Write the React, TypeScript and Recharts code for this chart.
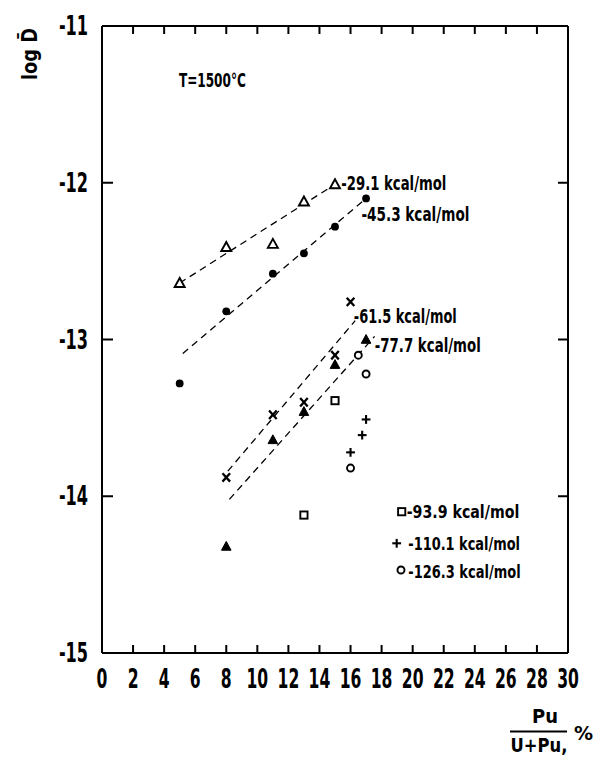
import React from 'react';
import { ScatterChart, Scatter, XAxis, YAxis, ReferenceLine, ReferenceDot, CartesianGrid } from 'recharts';

const FONT = "'DejaVu Sans', 'Liberation Sans', sans-serif";

// ---- axes ----
const xTicks = [0, 2, 4, 6, 8, 10, 12, 14, 16, 18, 20, 22, 24, 26, 28, 30];
const yTicks = [-15, -14, -13, -12, -11];
const xDomain = [0, 30];
const yDomain = [-15, -11];

// ---- series (x = Pu/(U+Pu) %, y = log D) ----
const openTriangle = [
  { x: 5, y: -12.64 }, { x: 8, y: -12.41 }, { x: 11, y: -12.39 }, { x: 13, y: -12.12 }, { x: 15, y: -12.01 },
];
const filledCircle = [
  { x: 5, y: -13.28 }, { x: 8, y: -12.82 }, { x: 11, y: -12.58 }, { x: 13, y: -12.45 }, { x: 15, y: -12.28 }, { x: 17, y: -12.1 },
];
const cross = [
  { x: 8, y: -13.88 }, { x: 11, y: -13.48 }, { x: 13, y: -13.4 }, { x: 15, y: -13.1 }, { x: 16, y: -12.76 },
];
const filledTriangle = [
  { x: 8, y: -14.32 }, { x: 11, y: -13.64 }, { x: 13, y: -13.46 }, { x: 15, y: -13.16 }, { x: 17, y: -13.0 },
];
const openSquare = [{ x: 13, y: -14.12 }, { x: 15, y: -13.39 }];
const plus = [{ x: 16, y: -13.72 }, { x: 16.75, y: -13.61 }, { x: 17, y: -13.51 }];
const openCircle = [{ x: 16, y: -13.82 }, { x: 16.5, y: -13.1 }, { x: 17, y: -13.22 }];

// ---- dashed fit lines (endpoints) ----
const fitOpenTriangle = [{ x: 5, y: -12.64 }, { x: 15, y: -12.01 }];
const fitFilledCircle = [{ x: 5.2, y: -13.09 }, { x: 17, y: -12.1 }];
const fitCross = [{ x: 8.1, y: -13.84 }, { x: 16.3, y: -12.88 }];
const fitFilledTriangle = [{ x: 8.2, y: -14.02 }, { x: 17.55, y: -12.98 }];

// ---- annotation texts ----
const lineLabels = ['-29.1 kcal/mol', '-45.3 kcal/mol', '-61.5 kcal/mol', '-77.7 kcal/mol'];
const lineLabelAnchors = [
  { x: 15.41, y: -12.046 }, { x: 16.7, y: -12.242 }, { x: 16.21, y: -12.897 }, { x: 17.56, y: -13.078 },
];
const lineLabelWidths = [105, 108, 103, 106];
const tempLabel = 'T=1500°C';
const legendLabels = ['-93.9 kcal/mol', '-110.1 kcal/mol', '-126.3 kcal/mol'];
const legendAnchor = { x: 18.54, y: -13.992 };

// ---- marker shapes ----
const S = '#000';
const OpenTri = (p: any) => (
  <polygon points={`${p.cx},${p.cy - 5} ${p.cx - 5},${p.cy + 4} ${p.cx + 5},${p.cy + 4}`} fill="#fff" stroke={S} strokeWidth={1.9} />
);
const FillTri = (p: any) => (
  <polygon points={`${p.cx},${p.cy - 5} ${p.cx - 4.8},${p.cy + 3.8} ${p.cx + 4.8},${p.cy + 3.8}`} fill={S} stroke={S} strokeWidth={1} />
);
const FillCirc = (p: any) => <circle cx={p.cx} cy={p.cy} r={3.9} fill={S} />;
const OpenCirc = (p: any) => <circle cx={p.cx} cy={p.cy} r={3.5} fill="#fff" stroke={S} strokeWidth={1.9} />;
const OpenSq = (p: any) => <rect x={p.cx - 3.6} y={p.cy - 3.6} width={7.2} height={7.2} fill="#fff" stroke={S} strokeWidth={1.9} />;
const Cross = (p: any) => (
  <g stroke={S} strokeWidth={2.3}>
    <line x1={p.cx - 3.8} y1={p.cy - 4.2} x2={p.cx + 3.8} y2={p.cy + 4.2} />
    <line x1={p.cx + 3.8} y1={p.cy - 4.2} x2={p.cx - 3.8} y2={p.cy + 4.2} />
  </g>
);
const Plus = (p: any) => (
  <g stroke={S} strokeWidth={2.1}>
    <line x1={p.cx - 4.4} y1={p.cy} x2={p.cx + 4.4} y2={p.cy} />
    <line x1={p.cx} y1={p.cy - 4.4} x2={p.cx} y2={p.cy + 4.4} />
  </g>
);

// ---- text helpers ----
const txt = (x: number, y: number, s: string, anchor: string, size = 26, sx = 0.62) => (
  <text transform={`translate(${x},${y}) scale(${sx},1)`} textAnchor={anchor} fontSize={size} fontWeight="bold" fontFamily={FONT} fill={S}>
    {s}
  </text>
);
const fitText = (x: number, y: number, s: string, w: number, size = 20) => (
  <text x={x} y={y} fontSize={size} fontWeight="bold" fontFamily={FONT} fill={S} textLength={w} lengthAdjust="spacingAndGlyphs">
    {s}
  </text>
);

// ---- tick labels ----
const LeftTick = (p: any) => <g>{txt(p.x - 14, p.y + 9, String(p.payload.value), 'end')}</g>;
const BottomTick = (p: any) => <g>{txt(p.x, p.y + 35, String(p.payload.value), 'middle', 26, 0.6)}</g>;

// inward tick marks, drawn at the tick positions through the chart scales
const tickMark = (dx: number, dy: number) => (p: any) =>
  <path d={`M${p.cx},${p.cy}L${p.cx + dx},${p.cy + dy}`} stroke={S} strokeWidth={2} fill="none" />;

// axis titles, anchored at the plot corners
const YTitle = (p: any) => (
  <text transform={`translate(${p.cx - 65},${p.cy + 28}) rotate(-90)`} textAnchor="middle" fontSize={21} fontWeight="bold"
    fontFamily={FONT} fill={S} textLength={52} lengthAdjust="spacingAndGlyphs">
    log D̄
  </text>
);
const XTitle = (p: any) => {
  const x0 = p.cx, y0 = p.cy;
  return (
    <g>
      {txt(x0 + 443, y0 + 70, 'Pu', 'middle', 20, 0.9)}
      <line x1={x0 + 408} x2={x0 + 465} y1={y0 + 78.5} y2={y0 + 78.5} stroke={S} strokeWidth={2} />
      {txt(x0 + 437, y0 + 99, 'U+Pu,', 'middle', 20, 0.82)}
      {txt(x0 + 472, y0 + 87, '%', 'start', 19, 1.0)}
    </g>
  );
};

const legendMarkers = [OpenSq, Plus, OpenCirc];
const LegendBox = (p: any) => (
  <g transform={`translate(${p.cx},${p.cy})`}>
    {legendMarkers[0]({ cx: 11.7, cy: 16.7 })}
    {fitText(16.7, 23, legendLabels[0], 112.6, 18)}
    {legendMarkers[1]({ cx: 6.7, cy: 48.3 })}
    {fitText(18.3, 55, legendLabels[1], 111.7, 18)}
    {legendMarkers[2]({ cx: 11, cy: 75 })}
    {fitText(18.3, 83, legendLabels[2], 112.4, 18)}
  </g>
);

const A = { xAxisId: 'b', yAxisId: 'l' } as const;
const innerX = xTicks.slice(1, -1);
const innerY = yTicks.slice(1, -1);

export default function App() {
  return (
    <div style={{ position: 'absolute', left: 0, top: 0, background: '#fff' }}>
      <ScatterChart width={597} height={760} margin={{ top: 26, right: 29, bottom: 77, left: 62 }}>
        {/* frame: top and right edges */}
        <CartesianGrid xAxisId="b" yAxisId="l" horizontalValues={[yDomain[1]]} verticalValues={[xDomain[1]]}
          stroke={S} strokeWidth={2} strokeOpacity={1} />
        <XAxis xAxisId="b" type="number" dataKey="x" domain={xDomain} ticks={xTicks} interval={0} height={30}
          tickSize={0} tickMargin={0} tick={<BottomTick />} tickLine={false}
          axisLine={{ stroke: S, strokeWidth: 2 }} allowDataOverflow />
        <YAxis yAxisId="l" type="number" dataKey="y" domain={yDomain} ticks={yTicks} interval={0} width={40}
          tickSize={0} tickMargin={0} tick={<LeftTick />} tickLine={false}
          axisLine={{ stroke: S, strokeWidth: 2 }} allowDataOverflow />
        <ReferenceLine {...A} y={yDomain[1]} stroke={S} strokeWidth={2} ifOverflow="visible" />
        <ReferenceLine {...A} x={xDomain[1]} stroke={S} strokeWidth={2} ifOverflow="visible" />

        {/* inward ticks on all four sides */}
        {innerX.map((t) => (
          <ReferenceDot key={`b${t}`} {...A} x={t} y={yDomain[0]} r={1} shape={tickMark(0, -8)} />
        ))}
        {innerX.map((t) => (
          <ReferenceDot key={`t${t}`} {...A} x={t} y={yDomain[1]} r={1} shape={tickMark(0, 8)} />
        ))}
        {innerY.map((t) => (
          <ReferenceDot key={`l${t}`} {...A} x={xDomain[0]} y={t} r={1} shape={tickMark(11, 0)} />
        ))}
        {innerY.map((t) => (
          <ReferenceDot key={`r${t}`} {...A} x={xDomain[1]} y={t} r={1} shape={tickMark(-10, 0)} />
        ))}

        <ReferenceLine {...A} segment={fitOpenTriangle} stroke={S} strokeWidth={1.3} strokeDasharray="7 5" ifOverflow="visible" />
        <ReferenceLine {...A} segment={fitFilledCircle} stroke={S} strokeWidth={1.3} strokeDasharray="7 5" ifOverflow="visible" />
        <ReferenceLine {...A} segment={fitCross} stroke={S} strokeWidth={1.3} strokeDasharray="7 5" ifOverflow="visible" />
        <ReferenceLine {...A} segment={fitFilledTriangle} stroke={S} strokeWidth={1.3} strokeDasharray="7 5" ifOverflow="visible" />

        <Scatter {...A} name="-29.1 kcal/mol" data={openTriangle} shape={OpenTri} isAnimationActive={false} />
        <Scatter {...A} name="-45.3 kcal/mol" data={filledCircle} shape={FillCirc} isAnimationActive={false} />
        <Scatter {...A} name="-61.5 kcal/mol" data={cross} shape={Cross} isAnimationActive={false} />
        <Scatter {...A} name="-77.7 kcal/mol" data={filledTriangle} shape={FillTri} isAnimationActive={false} />
        <Scatter {...A} name={legendLabels[0]} data={openSquare} shape={OpenSq} isAnimationActive={false} />
        <Scatter {...A} name={legendLabels[1]} data={plus} shape={Plus} isAnimationActive={false} />
        <Scatter {...A} name={legendLabels[2]} data={openCircle} shape={OpenCirc} isAnimationActive={false} />

        {lineLabels.map((s, i) => (
          <ReferenceDot key={s} {...A} x={lineLabelAnchors[i].x} y={lineLabelAnchors[i].y} r={1}
            shape={(p: any) => fitText(p.cx, p.cy, s, lineLabelWidths[i])} />
        ))}
        <ReferenceDot {...A} x={4.95} y={-11.387} r={1} shape={(p: any) => fitText(p.cx, p.cy, tempLabel, 67)} />
        <ReferenceDot {...A} x={legendAnchor.x} y={legendAnchor.y} r={1} shape={LegendBox} />
        <ReferenceDot {...A} x={xDomain[0]} y={yDomain[1]} r={1} ifOverflow="visible" shape={YTitle} />
        <ReferenceDot {...A} x={xDomain[0]} y={yDomain[0]} r={1} ifOverflow="visible" shape={XTitle} />
      </ScatterChart>
    </div>
  );
}
